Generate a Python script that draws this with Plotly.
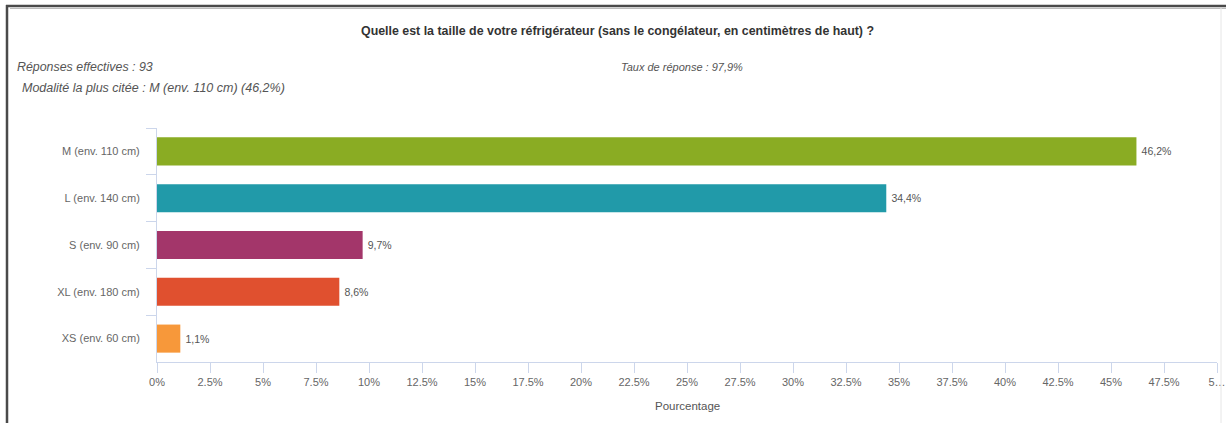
import plotly.graph_objects as go

# Survey answers: fridge size (without freezer, height in cm)
categories = ["M (env. 110 cm)", "L (env. 140 cm)", "S (env. 90 cm)",
              "XL (env. 180 cm)", "XS (env. 60 cm)"]
percentages = [46.2, 34.4, 9.7, 8.6, 1.1]
bar_colors = ["#8aac23", "#219aa9", "#a3366a", "#e0502f", "#f7983a"]

tick_values = [0, 2.5, 5, 7.5, 10, 12.5, 15, 17.5, 20, 22.5, 25, 27.5, 30,
               32.5, 35, 37.5, 40, 42.5, 45, 47.5, 50]
tick_labels = ["0%", "2.5%", "5%", "7.5%", "10%", "12.5%", "15%", "17.5%",
               "20%", "22.5%", "25%", "27.5%", "30%", "32.5%", "35%", "37.5%",
               "40%", "42.5%", "45%", "47.5%", "5…"]

title_text = "Quelle est la taille de votre réfrigérateur (sans le congélateur, en centimètres de haut) ?"
info_left_1 = "Réponses effectives : 93"
info_left_2 = "Modalité la plus citée : M (env. 110 cm) (46,2%)"
info_right = "Taux de réponse : 97,9%"

W, H = 1226, 423
ML, MR, MT, MB = 157, 9, 128, 61
PW, PH = W - ML - MR, H - MT - MB


def px_x(x):
    return (x - ML) / PW


def px_y(y):
    return (H - MB - y) / PH


# value labels use a decimal comma, e.g. "46,2%"
value_text = ["\u2009" + f"{v:.1f}".replace(".", ",") + "%" for v in percentages]

FONT = "Liberation Sans, Arial, sans-serif"
AXIS_COLOR = "#ccd6eb"

fig = go.Figure(go.Bar(
    x=percentages,
    y=categories,
    orientation="h",
    marker=dict(color=bar_colors, line=dict(width=0)),
    text=value_text,
    textposition="outside",
    textfont=dict(size=10.5, color="#555555", family=FONT),
    cliponaxis=False,
    hoverinfo="skip",
))

fig.update_layout(
    width=W, height=H,
    margin=dict(l=ML, r=MR, t=MT, b=MB, autoexpand=False),
    paper_bgcolor="white",
    plot_bgcolor="white",
    bargap=0.4,
    showlegend=False,
    font=dict(family=FONT, color="#666666", size=11),
    xaxis=dict(
        range=[0, 50],
        tickvals=tick_values,
        ticktext=tick_labels,
        showgrid=False,
        zeroline=False,
        showline=True,
        linecolor=AXIS_COLOR,
        linewidth=1,
        ticks="outside",
        ticklen=10,
        tickcolor=AXIS_COLOR,
        tickfont=dict(size=11, color="#666666"),
        automargin=False,
        fixedrange=True,
    ),
    yaxis=dict(
        autorange="reversed",
        showgrid=False,
        zeroline=False,
        showline=True,
        linecolor=AXIS_COLOR,
        linewidth=1,
        ticks="outside",
        tickson="boundaries",
        ticklen=10,
        tickcolor=AXIS_COLOR,
        tickfont=dict(size=11, color="#666666"),
        ticklabelstandoff=14,
        automargin=False,
        fixedrange=True,
    ),
)

annotations = [
    dict(text=f"<b>{title_text}</b>", x=px_x(617), y=px_y(31),
         xanchor="center", yanchor="middle",
         font=dict(size=12.4, color="#333333")),
    dict(text=f"<i>{info_left_1}</i>", x=px_x(15), y=px_y(67),
         xanchor="left", yanchor="middle",
         font=dict(size=12.4, color="#555555")),
    dict(text=f"<i>{info_left_2}</i>", x=px_x(20), y=px_y(88),
         xanchor="left", yanchor="middle",
         font=dict(size=12.5, color="#555555")),
    dict(text=f"<i>{info_right}</i>", x=px_x(619), y=px_y(67),
         xanchor="left", yanchor="middle",
         font=dict(size=11, color="#555555")),
    dict(text="Pourcentage", x=px_x(687), y=px_y(406),
         xanchor="center", yanchor="middle",
         font=dict(size=11.5, color="#555555")),
]
for a in annotations:
    a.update(xref="paper", yref="paper", showarrow=False)
fig.update_layout(annotations=annotations)

# Frame around the panel: dark left/top edges, faint right edge
fig.update_layout(shapes=[
    dict(type="line", xref="paper", yref="paper",
         x0=px_x(7), x1=px_x(7), y0=px_y(5), y1=px_y(H + 2),
         line=dict(color="#4a4a4a", width=2.5)),
    dict(type="line", xref="paper", yref="paper",
         x0=px_x(6), x1=px_x(W + 2), y0=px_y(6), y1=px_y(6),
         line=dict(color="#4a4a4a", width=2.5)),
    dict(type="line", xref="paper", yref="paper",
         x0=px_x(10), x1=px_x(W + 2), y0=px_y(8.5), y1=px_y(8.5),
         line=dict(color="#bbbbbb", width=1)),
    dict(type="line", xref="paper", yref="paper",
         x0=px_x(1221), x1=px_x(1221), y0=px_y(8), y1=px_y(H + 2),
         line=dict(color="#e6e6e6", width=1)),
])

fig.write_html("out.html", config={"displayModeBar": False})
